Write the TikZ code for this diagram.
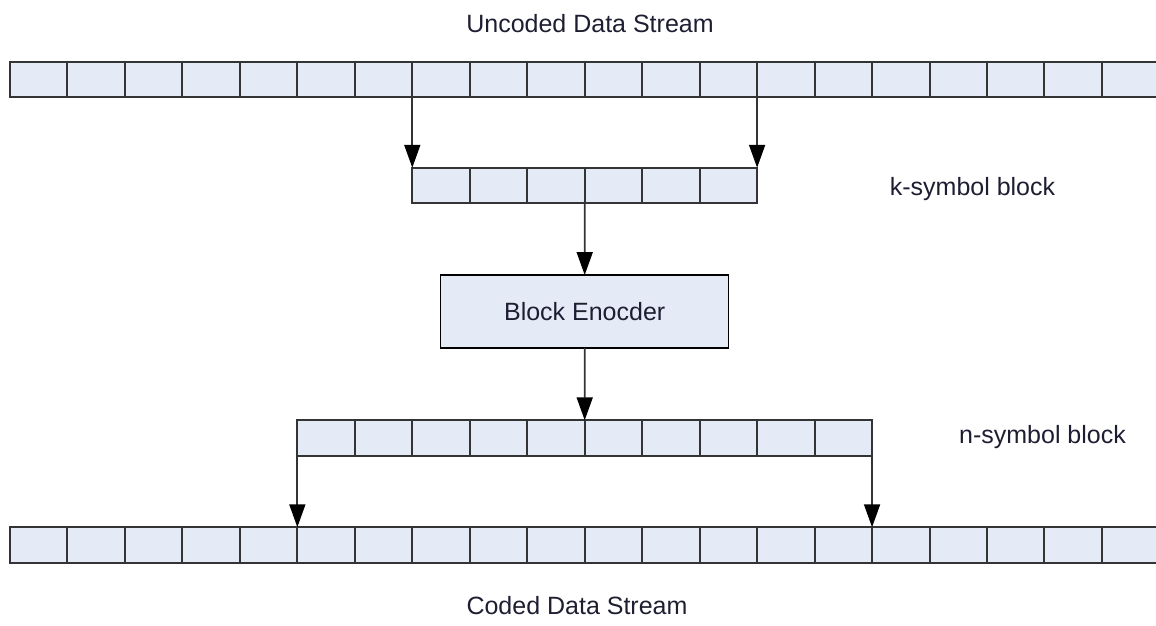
\documentclass[tikz,border=0pt]{standalone}
\usepackage{fontspec}
\setmainfont{Liberation Sans}
\usetikzlibrary{arrows.meta}
\definecolor{cellfill}{RGB}{229,235,246}
\definecolor{cellline}{RGB}{52,52,52}
\definecolor{txt}{RGB}{30,30,50}
\begin{document}
\begin{tikzpicture}[x=1pt,y=-1pt,
  cell/.style={draw=cellline, fill=cellfill, line width=2pt, minimum width=57.47pt, minimum height=35.5pt, inner sep=0pt, outer sep=0pt},
  encbox/.style={draw=black, fill=cellfill, line width=1.3pt, minimum width=288pt, minimum height=73pt, inner sep=0pt, outer sep=0pt, font=\fontsize{25}{30}\selectfont, text=txt},
  conn/.style={draw=cellline, line width=1.8pt, -{Triangle[length=23pt,width=16pt,color=black]}},
  lbl/.style={font=\fontsize{25}{30}\selectfont, text=txt, inner sep=0pt, anchor=base}]
\useasboundingbox (0,0) rectangle (1156,625);
\clip (0,0) rectangle (1156,625);
% uncoded stream
\foreach \i in {1,...,20} \node[cell] (t\i) at ({10+57.47*(\i-0.5)},79.5) {};
% k-symbol block
\foreach \i in {1,...,6} \node[cell] (k\i) at ({10+57.47*(\i+6.5)},185.5) {};
% encoder
\node[encbox] (enc) at (584.7,311.5) {Block Enocder};
% n-symbol block
\foreach \i in {1,...,10} \node[cell] (n\i) at ({10+57.47*(\i+4.5)},438) {};
% coded stream
\foreach \i in {1,...,20} \node[cell] (b\i) at ({10+57.47*(\i-0.5)},545) {};
% connectors
\draw[conn] (t8.south west) -- (k1.north west);
\draw[conn] (t13.south east) -- (k6.north east);
\draw[conn] (k3.south east) -- (enc.north);
\draw[conn] (enc.south) -- (n5.north east);
\draw[conn] (n1.south west) -- (b6.north west);
\draw[conn] (n10.south east) -- (b15.north east);
% labels
\node[lbl] (ulab) at (590,32) {Uncoded Data Stream};
\node[lbl] (klab) at (972.5,195) {k-symbol block};
\node[lbl] (nlab) at (1042.5,443) {n-symbol block};
\node[lbl] (clab) at (577,614) {Coded Data Stream};
\end{tikzpicture}
\end{document}
